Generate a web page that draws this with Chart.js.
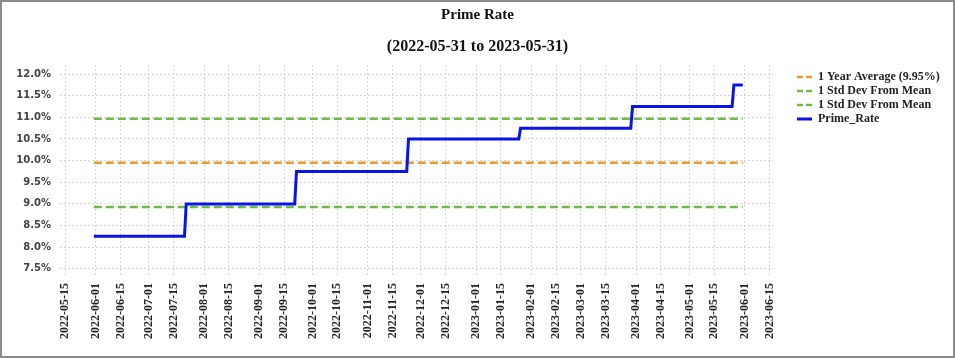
<!DOCTYPE html>
<html><head><meta charset="utf-8">
<script src="https://cdn.jsdelivr.net/npm/chart.js@4.4.0/dist/chart.umd.min.js"></script>
<style>html,body{margin:0;padding:0;background:#fff}#wrap{width:955px;height:358px;position:relative}</style>
</head><body><div id="wrap"><canvas id="c" width="955" height="358"></canvas></div>
<script>
const titleText = 'Prime Rate';
const subtitleText = '(2022-05-31 to 2023-05-31)';
const primeDates = ['2022-05-31','2022-07-21','2022-07-22','2022-09-21','2022-09-22','2022-11-23','2022-11-24','2023-01-25','2023-01-26','2023-03-29','2023-03-30','2023-05-25','2023-05-26','2023-05-31'];
const primeValues = [8.25,8.25,9.00,9.00,9.75,9.75,10.50,10.50,10.75,10.75,11.25,11.25,11.75,11.75];
const periodDates = ['2022-05-31','2023-05-31'];
const averageValue = 9.95;
const upperStdValue = 10.97;
const lowerStdValue = 8.93;
const seriesLabels = ['1 Year Average (9.95%)','1 Std Dev From Mean','1 Std Dev From Mean','Prime_Rate'];
const xTickLabels = ['2022-05-15','2022-06-01','2022-06-15','2022-07-01','2022-07-15','2022-08-01','2022-08-15','2022-09-01','2022-09-15','2022-10-01','2022-10-15','2022-11-01','2022-11-15','2022-12-01','2022-12-15','2023-01-01','2023-01-15','2023-02-01','2023-02-15','2023-03-01','2023-03-15','2023-04-01','2023-04-15','2023-05-01','2023-05-15','2023-06-01','2023-06-15'];
const yTickValues = [7.5,8.0,8.5,9.0,9.5,10.0,10.5,11.0,11.5,12.0];
const xRange = ['2022-05-12','2023-06-17'];
const yRange = [7.31, 12.21];

const t = d => Date.parse(d);
const flat = v => periodDates.map(d => ({x: t(d), y: v}));
const ORANGE = '#F0962F', GREEN = '#6DBB45', BLUE = '#0A14E6';

const datasets = [
  {label: seriesLabels[0], data: flat(averageValue), borderColor: ORANGE, borderWidth: 2.5, borderDash: [8,4], order: 1},
  {label: seriesLabels[1], data: flat(upperStdValue), borderColor: GREEN, borderWidth: 2.5, borderDash: [8,4], order: 1},
  {label: seriesLabels[2], data: flat(lowerStdValue), borderColor: GREEN, borderWidth: 2.5, borderDash: [8,4], order: 1},
  {label: seriesLabels[3], data: primeDates.map((d,i) => ({x: t(d), y: primeValues[i]})), borderColor: BLUE, borderWidth: 3, order: 0}
];

const gridStyle = {color: '#d6d6d6', lineWidth: 1, drawTicks: false};
const borderStyle = {display: false, dash: [2,2]};

const frame = {
  id: 'frame',
  beforeDraw(chart) {
    const c = chart.ctx; c.save(); c.fillStyle = '#fff'; c.fillRect(0,0,chart.width,chart.height); c.restore();
  },
  afterDraw(chart) {
    const c = chart.ctx; c.save();
    // titles
    c.fillStyle = '#111'; c.textAlign = 'center'; c.textBaseline = 'middle';
    c.font = 'bold 15px "Liberation Serif"';
    c.fillText(titleText, chart.width / 2, 15);
    c.font = 'bold 16px "Liberation Serif"';
    c.fillText(subtitleText, chart.width / 2, 47);
    // legend
    c.textAlign = 'left';
    const x0 = chart.chartArea.right + 24;
    c.font = 'bold 12px "Liberation Serif"';
    chart.data.datasets.forEach((ds, i) => {
      const y = chart.chartArea.top + 12 + i * 14;
      c.strokeStyle = ds.borderColor; c.lineWidth = ds.borderWidth;
      c.setLineDash(ds.borderDash ? [6,3] : []);
      c.beginPath(); c.moveTo(x0, y); c.lineTo(x0 + 15, y); c.stroke();
      c.setLineDash([]);
      c.fillStyle = '#222'; c.fillText(ds.label, x0 + 21, y);
    });
    c.strokeStyle = '#8c8c8c'; c.lineWidth = 2;
    c.strokeRect(1, 1, chart.width - 2, chart.height - 2);
    c.restore();
  }
};

new Chart(document.getElementById('c'), {
  type: 'line',
  data: {datasets},
  options: {
    responsive: false, animation: false, devicePixelRatio: 1,
    layout: {padding: {left: 0, right: 182, top: 65, bottom: 0}},
    elements: {point: {radius: 0}, line: {tension: 0}},
    plugins: {legend: {display: false}, tooltip: {enabled: false}, title: {display: false}},
    scales: {
      x: {
        type: 'linear', min: t(xRange[0]), max: t(xRange[1]),
        afterBuildTicks: s => { s.ticks = xTickLabels.map(d => ({value: t(d)})); },
        afterFit: s => { s.height = 81; },
        grid: gridStyle, border: borderStyle,
        ticks: {autoSkip: false, maxRotation: 90, minRotation: 90, padding: 6, color: '#222',
          font: {family: 'Liberation Serif', weight: 'bold', size: 12},
          callback: v => new Date(v).toISOString().slice(0,10)}
      },
      y: {
        min: yRange[0], max: yRange[1],
        afterBuildTicks: s => { s.ticks = yTickValues.map(v => ({value: v})); },
        afterFit: s => { s.width = 60; },
        grid: gridStyle, border: borderStyle,
        ticks: {padding: 9, color: '#444', font: {family: 'DejaVu Sans', weight: 'bold', size: 10},
          callback: v => v.toFixed(1) + '%'}
      }
    }
  },
  plugins: [frame]
});
</script>
</body></html>
